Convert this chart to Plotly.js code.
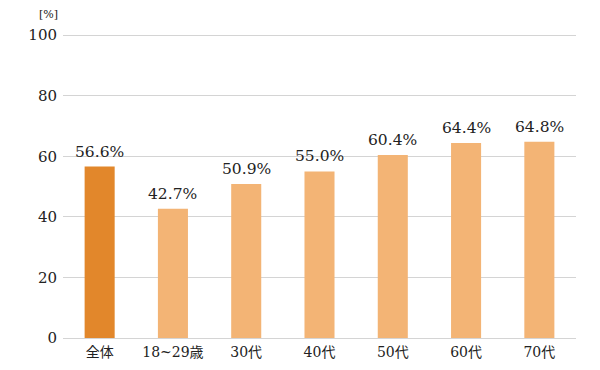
<!DOCTYPE html>
<html><head><meta charset="utf-8">
<script src="https://cdn.plot.ly/plotly-3.0.1.min.js"></script>
<style>body{margin:0;background:#fff}#c{width:600px;height:370px}</style>
</head><body><div id="c"></div>
<script>
var categories = ["全体", "18~29歳", "30代", "40代", "50代", "60代", "70代"];
var values = [56.6, 42.7, 50.9, 55.0, 60.4, 64.4, 64.8];
var barColors = ["#E2872B", "#F3B475", "#F3B475", "#F3B475", "#F3B475", "#F3B475", "#F3B475"];
var yTicks = [0, 20, 40, 60, 80, 100];
var FONT = "'DejaVu Serif', 'Noto Sans CJK JP', serif";

var labels = categories.map(function(c, i){
  return {x: c, y: values[i], xref: "x", yref: "y", text: values[i].toFixed(1) + "%",
    showarrow: false, yanchor: "bottom", yshift: 4,
    font: {family: FONT, size: 15.5, color: "#222"}};
});
labels.push({
  text: "[%]", xref: "paper", yref: "paper", x: 0, y: 1,
  xanchor: "right", yanchor: "bottom", xshift: -3, yshift: 11,
  showarrow: false, font: {family: FONT, size: 11, color: "#222"}
});

Plotly.newPlot("c", [{
  type: "bar",
  x: categories,
  y: values,
  marker: {color: barColors},
  hoverinfo: "none"
}], {
  width: 600, height: 370,
  margin: {l: 63, r: 24, t: 34, b: 32},
  bargap: 0.59,
  paper_bgcolor: "#fff", plot_bgcolor: "#fff",
  showlegend: false,
  font: {family: FONT, size: 15, color: "#222"},
  xaxis: {
    showgrid: false, showline: false, zeroline: false,
    ticks: "", ticklabelstandoff: 4,
    tickfont: {family: FONT, size: 14, color: "#222"}
  },
  yaxis: {
    range: [0, 100.4], tickvals: yTicks, ticktext: yTicks.map(String),
    showgrid: true, gridcolor: "#d4d4d4", gridwidth: 1,
    zeroline: true, zerolinecolor: "#d4d4d4", zerolinewidth: 1,
    showline: false, ticks: "", ticklabelstandoff: 5,
    tickfont: {family: FONT, size: 15, color: "#222"}
  },
  annotations: labels
}, {staticPlot: true, displayModeBar: false});
</script></body></html>
